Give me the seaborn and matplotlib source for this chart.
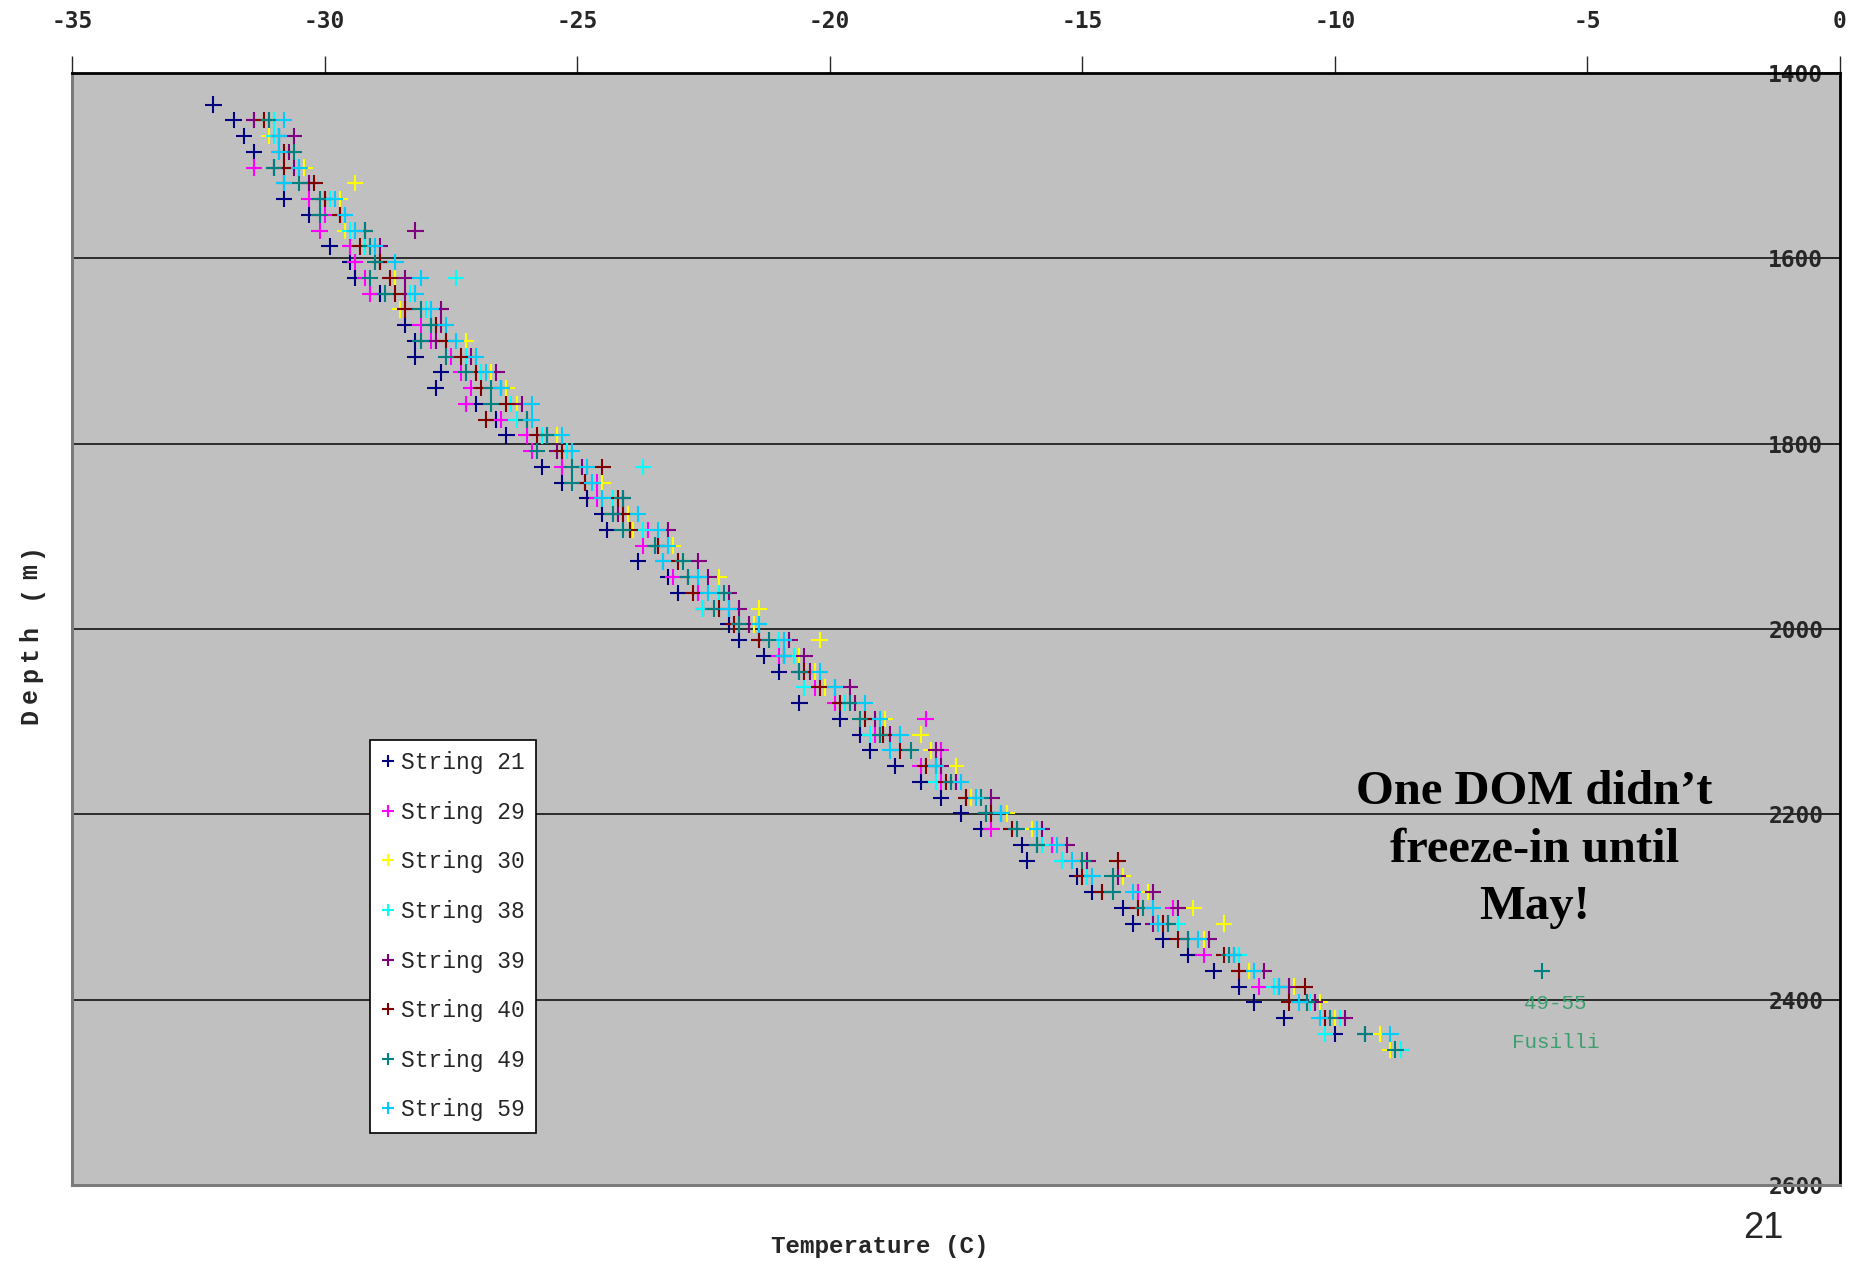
import numpy as np
import pandas as pd
import seaborn as sns
from matplotlib import pyplot as plt

nan = np.nan

# DOM depths (m), shared by all strings
depth_m = [1434, 1451, 1468, 1485, 1502, 1519, 1536, 1553, 1570, 1587,
           1604, 1621, 1638, 1655, 1672, 1689, 1706, 1723, 1740, 1757,
           1774, 1791, 1808, 1825, 1842, 1859, 1876, 1893, 1910, 1927,
           1944, 1961, 1978, 1995, 2012, 2029, 2046, 2063, 2080, 2097,
           2114, 2131, 2148, 2165, 2182, 2199, 2216, 2233, 2250, 2267,
           2284, 2301, 2318, 2335, 2352, 2369, 2386, 2403, 2420, 2437,
           2454]

# temperatures (C) per string, same order as depth_m
temp_21 = [-32.2, -31.8, -31.6, -31.4, -31.0, -30.8, -30.8, -30.3, nan, -29.9,
           -29.5, -29.4, -28.9, nan, -28.4, -28.2, -28.2, -27.7, -27.8, -27.0,
           -26.6, -26.4, nan, -25.7, -25.3, -24.8, -24.5, -24.4, nan, -23.8,
           -23.2, -23.0, -22.5, -22.0, -21.8, -21.3, -21.0, nan, -20.6, -19.8,
           -19.4, -19.2, -18.7, -18.2, -17.8, -17.4, -17.0, -16.2, -16.1, -15.1,
           -14.8, -14.2, -14.0, -13.4, -12.9, -12.4, -11.9, -11.6, -11.0, -10.0,
           nan]
temp_29 = [nan, -31.4, -31.1, -30.9, -31.4, -30.3, -30.3, -30.0, -30.1, -29.5,
           -29.4, -29.2, -29.1, -28.4, -28.1, -27.9, -27.5, -27.3, -27.1, -27.2,
           -26.5, -26.0, -25.9, -25.3, -24.6, -24.6, -24.1, -23.6, -23.7, -23.3,
           -23.1, -22.6, -22.0, -21.9, -21.4, -21.0, -20.6, -20.3, -19.9, -18.1,
           -19.1, -17.8, -18.2, -17.8, -17.3, -16.9, -16.8, -15.6, -15.4, -14.9,
           -13.9, -13.2, -13.3, -12.9, -12.6, -11.9, -11.5, -10.55, -10.2, nan,
           nan]
temp_30 = [nan, -31.0, -31.1, -30.7, -30.4, -29.4, -29.7, -29.7, -29.6, -29.2,
           -29.0, -28.6, -28.4, -28.5, -27.7, -27.2, -27.1, -26.7, -26.4, -26.2,
           -26.0, -25.4, -25.2, -24.8, -24.5, -24.2, -24.0, -23.9, -23.1, -22.9,
           -22.2, -22.1, -21.4, -21.5, -20.2, -20.6, -20.3, -20.1, -19.5, -18.9,
           -18.2, -18.0, -17.5, -17.4, -17.2, -16.5, -16.0, -15.5, -15.0, -14.2,
           -13.7, -12.8, -12.2, -12.6, -12.0, -11.7, -10.8, -10.3, -10.0, -9.1,
           -8.9]
temp_38 = [nan, -31.0, -31.0, -30.7, -30.5, -30.2, -29.9, -29.6, -29.5, -29.2,
           -28.9, -27.4, -28.3, -28.0, -27.8, -27.4, -27.2, -26.9, -26.5, -26.3,
           -26.2, -25.7, -25.2, -23.7, -24.7, -24.3, -23.8, -23.7, -23.4, -22.9,
           -22.6, -22.2, -22.5, -21.4, -21.0, -20.7, -20.4, -20.5, -19.7, -19.0,
           -19.2, -18.8, -17.9, -17.9, -17.1, -16.6, -15.9, -15.8, -15.4, -14.9,
           -14.6, -13.6, -13.1, -12.5, -11.9, -11.6, -11.2, -10.5, -9.9, -10.2,
           -8.7]
temp_39 = [nan, -31.4, -30.6, -30.7, -30.6, -30.3, -30.0, -29.7, -28.2, -28.9,
           -28.9, -28.4, -28.4, -27.7, -27.7, -27.8, -27.1, -26.6, -26.5, -26.1,
           -26.0, -25.6, -25.4, -24.9, -24.85, -24.1, -24.2, -23.2, -23.4, -22.6,
           -22.4, -22.0, -21.8, -21.6, -20.8, -20.5, -20.4, -19.6, -19.5, -19.1,
           -18.8, -17.9, -17.8, -17.5, -16.8, -16.6, -15.8, -15.3, -14.9, -14.3,
           -13.6, -13.1, -13.6, -12.5, -12.0, -11.4, -10.9, -10.4, -9.8, nan,
           nan]
temp_40 = [nan, -31.2, -30.9, -30.8, -30.8, -30.2, -30.0, -29.7, -29.2, -29.3,
           -28.9, -28.7, -28.6, -28.4, -27.8, -27.6, -27.3, -27.0, -26.9, -26.4,
           -26.8, -25.8, -25.3, -24.5, -24.85, -24.2, -24.1, -23.95, -23.4, -23.0,
           -22.8, -22.7, -22.2, -21.9, -21.4, -20.9, -20.5, -20.2, -19.8, -19.3,
           -18.95, -18.6, -18.1, -17.7, -17.3, -16.8, -16.4, -15.9, -14.3, -15.0,
           -14.6, -13.9, -13.4, -13.1, -12.2, -11.9, -10.6, -10.9, -10.2, -9.4,
           nan]
temp_49 = [nan, -31.1, -30.9, -30.6, -31.0, -30.5, -30.1, -30.1, -29.2, -29.1,
           -29.0, -29.1, -28.8, -28.1, -27.9, -28.1, -27.6, -27.2, -26.7, -26.7,
           -26.0, -25.6, -25.8, -25.1, -25.1, -24.1, -24.3, -24.1, -23.45, -22.9,
           -22.8, -22.1, -22.3, -21.8, -21.2, -20.9, -20.6, -19.9, -19.6, -19.4,
           -19.0, -18.4, -17.9, -17.6, -17.0, -16.9, -16.3, -15.9, -15.0, -14.4,
           -14.4, -13.8, -13.3, -12.9, -12.1, -5.9, -11.1, -10.55, -10.1, -9.4,
           -8.8]
temp_59 = [nan, -30.8, -30.9, -30.9, -30.5, -30.8, -29.8, -29.6, -29.4, -29.0,
           -28.6, -28.1, -28.2, -27.9, -27.6, -27.4, -27.0, -26.8, -26.5, -25.9,
           -25.9, -25.3, -25.1, -24.8, -24.7, -24.5, -23.8, -23.4, -23.2, -23.3,
           -22.6, -22.4, -22.0, -21.4, -20.9, -20.9, -20.2, -19.9, -19.3, -19.0,
           -18.6, -18.8, -17.9, -17.4, -17.1, -16.6, -15.9, -15.5, -15.2, -14.8,
           -14.0, -13.6, -13.5, -12.7, -12.0, -11.6, -11.1, -10.7, -10.3, -8.9,
           nan]

strings = ['String 21', 'String 29', 'String 30', 'String 38',
           'String 39', 'String 40', 'String 49', 'String 59']
colors = ['#000080', '#FF00FF', '#FFFF00', '#00FFFF',
          '#800080', '#800000', '#008080', '#00CCFF']
temps = [temp_21, temp_29, temp_30, temp_38, temp_39, temp_40, temp_49, temp_59]

x_ticks = [-35, -30, -25, -20, -15, -10, -5, 0]
y_ticks = [1400, 1600, 1800, 2000, 2200, 2400, 2600]

frames = []
for name, t in zip(strings, temps):
    frames.append(pd.DataFrame({'depth': depth_m, 'temp': t, 'string': name}))
df = pd.concat(frames).dropna()

sns.set_style('white')
plt.rcParams['font.family'] = ['DejaVu Sans']

fig = plt.figure(figsize=(18.58, 12.64), dpi=100)
ax = fig.add_axes([72 / 1858, 1 - 1185 / 1264, 1768 / 1858, 1112 / 1264])
ax.set_facecolor('#C0C0C0')

sns.scatterplot(data=df, x='temp', y='depth', hue='string', hue_order=strings,
                palette=dict(zip(strings, colors)), marker='+', s=140,
                linewidth=1.5, ax=ax, legend=True, zorder=3)

ax.set_xlim(-35, 0)
ax.set_ylim(2600, 1400)
ax.yaxis.grid(True, color='#202020', lw=1.3)
ax.set_axisbelow(True)

tick_font = dict(family='DejaVu Sans Mono', weight='bold', size=16.5)
ax.xaxis.tick_top()
ax.set_xticks(x_ticks, [str(v) for v in x_ticks], **tick_font)
ax.tick_params(axis='x', direction='out', length=12, width=1, pad=17)
ax.yaxis.tick_right()
ax.set_yticks(y_ticks, [str(v) for v in y_ticks], **tick_font)
ax.tick_params(axis='y', direction='in', length=14, width=1.2, pad=-12)
for lbl in ax.get_yticklabels():
    lbl.set_horizontalalignment('right')
ax.set_xlabel('')
ax.set_ylabel('')

for side in ['top', 'right']:
    ax.spines[side].set_color('black')
    ax.spines[side].set_linewidth(2)
for side in ['left', 'bottom']:
    ax.spines[side].set_color('#7a7a7a')
    ax.spines[side].set_linewidth(2.2)

handles, labels = ax.get_legend_handles_labels()
leg = ax.legend(handles, labels, loc='lower left', bbox_to_anchor=(0.1686, 0.047),
                prop={'family': 'Liberation Mono', 'size': 16.5}, labelspacing=1.16,
                handlelength=0.6, handletextpad=0.25, borderpad=0.5,
                borderaxespad=0, markerscale=0.72, fancybox=False,
                framealpha=1, edgecolor='black', facecolor='white')
leg.get_frame().set_linewidth(1.2)
leg.set_zorder(5)

ax.text(-6.05, 2238, 'One DOM didn\u2019t\nfreeze-in until\nMay!', ha='center',
        va='center', family='Liberation Serif', weight='bold', size=35,
        linespacing=1.4, color='black', zorder=6)
ax.text(-5.63, 2404, '49-55', ha='center', va='center',
        family='Liberation Mono', size=15, color='#3d9e6e', zorder=6)
ax.text(-5.63, 2446, 'Fusilli', ha='center', va='center',
        family='Liberation Mono', size=15, color='#3d9e6e', zorder=6)

fig.text(880 / 1858, 1 - 1247 / 1264, 'Temperature (C)', ha='center', va='center',
         family='Liberation Mono', weight='bold', size=17.5)
# y label with the wide letter spacing of the original
for i, ch in enumerate('Depth (m)'):
    fig.text(30 / 1858, (1264 - 716 + i * 20.7) / 1264, ch, ha='center',
             va='center', rotation=90, family='Liberation Mono',
             weight='bold', size=18)
fig.text(1763 / 1858, 1 - 1228 / 1264, '21', ha='center', va='center',
         family='Liberation Sans', size=26)

fig.savefig('out.png', dpi=100)
